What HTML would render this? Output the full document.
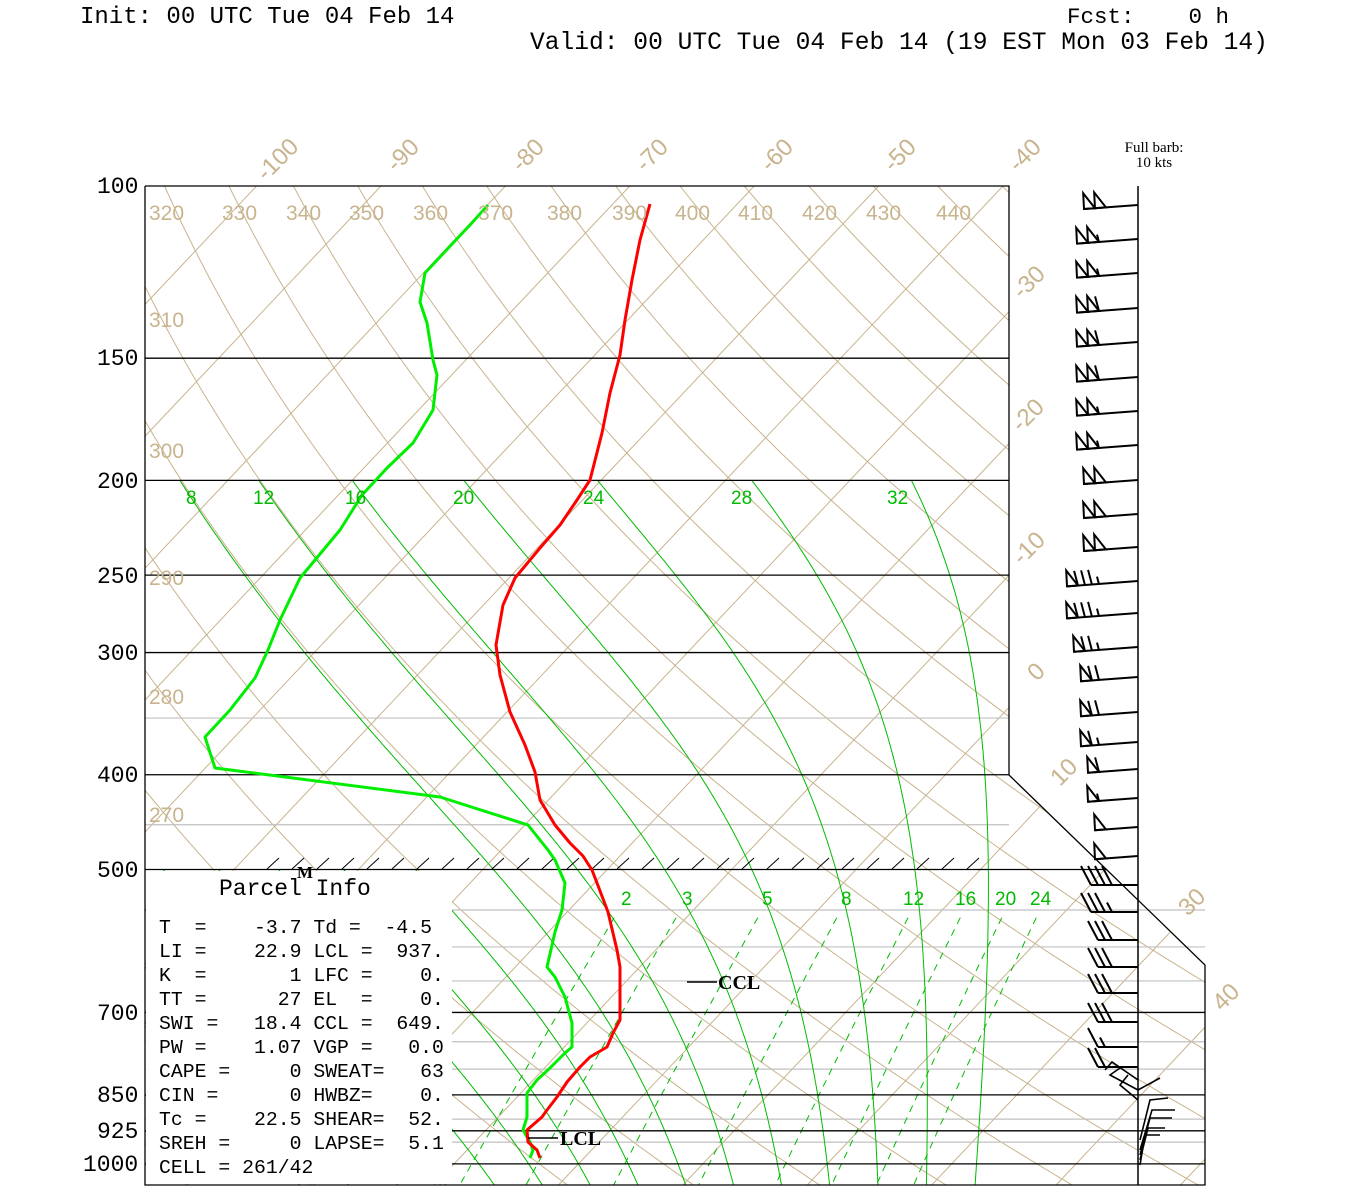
<!DOCTYPE html>
<html><head><meta charset="utf-8">
<style>
html,body{margin:0;padding:0;background:#fff;}
body{width:1350px;height:1200px;position:relative;overflow:hidden;}
.t{position:absolute;white-space:pre;font-family:"Liberation Mono",monospace;color:#000;line-height:1;}
</style></head>
<body>
<svg id="s" width="1350" height="1200" viewBox="0 0 1350 1200" xmlns="http://www.w3.org/2000/svg" style="position:absolute;left:0;top:0">
<defs>
<clipPath id="box"><polygon points="145,186 1009,186 1009,775 1205,965 1205,1185 145,1185"/></clipPath>
<clipPath id="box200"><polygon points="145,481 1009,481 1009,775 1205,965 1205,1185 145,1185"/></clipPath>
<clipPath id="box500"><polygon points="145,870 1107,870 1205,965 1205,1185 145,1185"/></clipPath>
</defs>
</svg>
<script>
(function(){
var NS="http://www.w3.org/2000/svg";
var svg=document.getElementById('s');
function el(n,a,parent){var e=document.createElementNS(NS,n);for(var k in a)e.setAttribute(k,a[k]);(parent||svg).appendChild(e);return e;}
function yP(p){return 186+424.7*Math.log(p/100);}
function xT(T,y){return 1003+12.44*(T+40)-(y-186)*0.943;}
var TAN="#c8b48e", GR="#00bb00";
var gIso=el('g',{'clip-path':'url(#box)',stroke:TAN,'stroke-width':1,fill:'none'});
for(var T=-130;T<=60;T+=10){
  el('line',{x1:xT(T,186),y1:186,x2:xT(T,1185),y2:1185},gIso);
}
for(var th=230;th<=460;th+=10){
  var d="";
  for(var p=100;p<=1052;p+=4){
    var TT=th*Math.pow(p/1000,0.2857)-273.15;var y=yP(p);var x=xT(TT,y);
    d+=(d?"L":"M")+x.toFixed(1)+","+y.toFixed(1);
  }
  el('path',{d:d},gIso);
}
var gray=[[350,1009],[450,1009],[550,1205],[600,1205],[650,1205],[750,1205],[800,1205],[900,1205],[950,1205]];
gray.forEach(function(g){var y=yP(g[0]);el('line',{x1:145,y1:y,x2:g[1],y2:y,stroke:'#c0c0c0','stroke-width':1.2});});
function es(T){return 6.112*Math.exp(17.67*T/(T+243.5));}
function moist(tw){
  var Rd=287.04,Cp=1005.7,Lv=2.501e6,eps=0.622;
  function dTdp(p,T){var Tk=T+273.15;var e=es(T);var rs=eps*e/(p-e);
    return (Rd*Tk+Lv*rs)/(p*(Cp+Lv*Lv*rs*eps/(Rd*Tk*Tk)));}
  var pts=[];var T=tw,p;
  var down=[];var T2=tw;
  for(var pp=1000;pp<1056;pp+=2){down.push([pp,T2]);T2+=dTdp(pp,T2)*2;}
  for(p=1000;p>=190;p-=2){pts.push([p,T]);T-=dTdp(p,T)*2;}
  var all=down.reverse().concat(pts);
  var d="";all.forEach(function(q){var y=yP(q[0]);var x=xT(q[1],y);d+=(d?"L":"M")+x.toFixed(1)+","+y.toFixed(1);});
  return d;
}
var gM1=el('g',{'clip-path':'url(#box200)',stroke:GR,'stroke-width':1,fill:'none'});
for(var tw=8;tw<=32;tw+=4)el('path',{d:moist(tw)},gM1);
var gM2=el('g',{'clip-path':'url(#box500)',stroke:GR,'stroke-width':1,fill:'none'});
for(var tw=-24;tw<=4;tw+=4)el('path',{d:moist(tw)},gM2);
var gW=el('g',{'clip-path':'url(#box)',stroke:GR,'stroke-width':1,fill:'none','stroke-dasharray':'7,6'});
[2,3,5,8,12,16,20,24].forEach(function(w){
  var d="";
  for(var p=560;p<=1055;p+=5){var e=w*p/(622+w);var l=Math.log(e/6.112);var Td=243.5*l/(17.67-l);var y=yP(p);var x=xT(Td,y);d+=(d?"L":"M")+x.toFixed(1)+","+y.toFixed(1);}
  el('path',{d:d},gW);
});
[[150,1009],[200,1009],[250,1009],[300,1009],[400,1009],[500,1107],[700,1205],[850,1205],[925,1205],[1000,1205]].forEach(function(g){
  var y=yP(g[0]);el('line',{x1:145,y1:y,x2:g[1],y2:y,stroke:'#000','stroke-width':1.3});
});
el('polyline',{points:"145,186 1009,186 1009,775 1205,965 1205,1185 145,1185 145,186",fill:'none',stroke:'#000','stroke-width':1.3});
for(var hx=267;hx<=970;hx+=25){el('line',{x1:hx,y1:869,x2:hx+12,y2:858,stroke:'#000','stroke-width':1});}
el('rect',{x:146,y:871,width:306,height:313,fill:'#fff'});
var red=[[650,204],[640,240],[632,280],[625,320],[620,355],[610,393],[602,433],[590,480],[577,500],[560,525],[540,548],[515,578],[503,605],[496,645],[500,675],[510,712],[525,745],[535,772],[540,800],[555,825],[570,843],[583,856],[592,870],[597,883],[608,912],[617,950],[620,967],[620,1020],[613,1033],[607,1047],[590,1057],[580,1067],[567,1082],[557,1097],[547,1110],[542,1117],[527,1130],[528,1142],[537,1150],[540,1158]];
var grn=[[488,205],[470,225],[453,243],[425,273],[420,302],[427,323],[433,360],[437,375],[433,410],[413,443],[387,468],[362,495],[340,530],[300,578],[280,620],[268,650],[255,678],[230,710],[205,737],[215,768],[440,797],[528,825],[548,850],[555,860],[565,883],[562,910],[555,932],[547,967],[555,977],[565,997],[572,1023],[572,1047],[565,1053],[550,1068],[537,1080],[527,1093],[527,1117],[523,1130],[530,1142],[533,1150],[530,1158]];
function pl(a){return a.map(function(q){return q[0]+","+q[1];}).join(" ");}
el('polyline',{points:pl(grn),fill:'none',stroke:'#00ee00','stroke-width':3,'stroke-linejoin':'round'});
el('polyline',{points:pl(red),fill:'none',stroke:'#ff0000','stroke-width':3,'stroke-linejoin':'round'});
el('line',{x1:687,y1:982,x2:717,y2:982,stroke:'#000','stroke-width':1.5});
el('line',{x1:528,y1:1138,x2:558,y2:1138,stroke:'#000','stroke-width':1.5});
el('line',{x1:1138,y1:186,x2:1138,y2:1185,stroke:'#000','stroke-width':1.5});
var gB=el('g',{stroke:'#000','stroke-width':2,fill:'none','stroke-linejoin':'miter'});
function barb(y,spec,lower){
  var w=0;for(var i=0;i<spec.length;i++){w+=spec[i]=='P'?11:7;}
  var L=lower?40+(spec.length>3?7:0):32+w;
  var dy=lower?0:L*0.075;
  var tx=1138-L,ty=y+dy;
  var h=Math.hypot(L,dy);
  var ux=-L/h,uy=dy/h;
  var nx=uy,ny=ux;
  if(ny>0){nx=-nx;ny=-ny;}
  el('line',{x1:1138,y1:y,x2:tx,y2:ty},gB);
  function P(s){return [tx-ux*s,ty-uy*s];}
  var s=0;
  for(var i=0;i<spec.length;i++){
    var c=spec[i];var a=P(s);
    if(c=='P'){var b=P(s+11);el('polygon',{points:a[0]+","+a[1]+" "+b[0]+","+b[1]+" "+(a[0]+16*nx+2*ux)+","+(a[1]+16*ny+2*uy)},gB);s+=11;}
    else{var len=(c=='F')?1:0.5;
      var fx=lower?(15*nx+10*ux):(15*nx+5*ux), fy=lower?(15*ny+10*uy-4):(15*ny+5*uy);
      el('line',{x1:a[0],y1:a[1],x2:a[0]+fx*len,y2:a[1]+fy*len},gB);s+=7;}
  }
}
[[205,'PP'],[239,'PPH'],[273,'PPH'],[308,'PPF'],[342,'PPF'],[377,'PPF'],[411,'PPH'],[445,'PPH'],[480,'PP'],[514,'PP'],[547,'PP'],[581,'PFFFH'],[613,'PFFFH'],[647,'PFFH'],[677,'PFF'],[712,'PFF'],[742,'PFH'],[769,'PF'],[798,'PH'],[827,'P'],[856,'P']].forEach(function(b){barb(b[0],b[1],false);});
[[885,'FFFF'],[912,'FFFH'],[940,'FFF'],[967,'FFF'],[993,'FFF'],[1022,'FFF'],[1047,'FH'],[1067,'FF']].forEach(function(b){barb(b[0],b[1],true);});
var gS=el('g',{stroke:'#000','stroke-width':1.6,fill:'none'});
["1138,1080 1112,1062 1105,1070","1138,1090 1110,1075 1120,1068","1138,1100 1120,1085 1128,1075","1138,1090 1160,1078","1140,1140 1150,1100 1168,1098","1140,1150 1152,1110 1175,1110","1140,1155 1150,1118 1172,1118","1140,1160 1148,1128 1165,1128","1140,1165 1145,1135 1160,1135"].forEach(function(p){el('polyline',{points:p},gS);});
var gT=el('g',{fill:TAN,'font-family':'Liberation Sans, sans-serif','font-size':21});
[[320,149],[330,222],[340,286],[350,349],[360,413],[370,478],[380,547],[390,612],[400,675],[410,738],[420,802],[430,866],[440,936]].forEach(function(a){el('text',{x:a[1],y:220},gT).textContent=a[0];});
[[310,327],[300,458],[290,585],[280,704],[270,822]].forEach(function(a){el('text',{x:149,y:a[1]},gT).textContent=a[0];});
var gT2=el('g',{fill:TAN,'font-family':'Liberation Sans, sans-serif','font-size':24});
[["-100",266,182],["-90",396,173],["-80",521,173],["-70",645,173],["-60",770,173],["-50",893,173],["-40",1018,173],["-30",1022,300],["-20",1021,433],["-10",1022,566],["0",1037,682],["10",1060,787],["30",1188,917],["40",1222,1012]].forEach(function(a){
  el('text',{x:a[1],y:a[2],transform:'rotate(-45 '+a[1]+' '+a[2]+')'},gT2).textContent=a[0];});
var gG=el('g',{fill:'#00bb00','font-family':'Liberation Sans, sans-serif','font-size':19});
[["8",186],["12",253],["16",345],["20",453],["24",583],["28",731],["32",887]].forEach(function(a){el('text',{x:a[1],y:504},gG).textContent=a[0];});
[["2",621],["3",682],["5",762],["8",841],["12",903],["16",955],["20",995],["24",1030]].forEach(function(a){el('text',{x:a[1],y:905},gG).textContent=a[0];});
var gK=el('g',{fill:'#000','font-family':'Liberation Serif, serif','font-weight':'bold'});
el('text',{x:297,y:878,'font-size':17},gK).textContent="M";
el('text',{x:718,y:989,'font-size':20},gK).textContent="CCL";
el('text',{x:560,y:1145,'font-size':20},gK).textContent="LCL";
var gF=el('g',{fill:'#000','font-family':'Liberation Serif, serif','font-size':15,'text-anchor':'middle'});
el('text',{x:1154,y:152},gF).textContent="Full barb:";
el('text',{x:1154,y:167},gF).textContent="10 kts";
})();
</script>
<div class="t" style="left:80px;top:6px;font-size:24px">Init: 00 UTC Tue 04 Feb 14</div>
<div class="t" style="left:1067px;top:6px;font-size:22.5px">Fcst:    0 h</div>
<div class="t" style="left:530px;top:32px;font-size:24.6px">Valid: 00 UTC Tue 04 Feb 14 (19 EST Mon 03 Feb 14)</div>
<div class="t" style="left:97px;top:176px;font-size:23px">100</div>
<div class="t" style="left:97px;top:348px;font-size:23px">150</div>
<div class="t" style="left:97px;top:471px;font-size:23px">200</div>
<div class="t" style="left:97px;top:566px;font-size:23px">250</div>
<div class="t" style="left:97px;top:643px;font-size:23px">300</div>
<div class="t" style="left:97px;top:765px;font-size:23px">400</div>
<div class="t" style="left:97px;top:860px;font-size:23px">500</div>
<div class="t" style="left:97px;top:1003px;font-size:23px">700</div>
<div class="t" style="left:97px;top:1085px;font-size:23px">850</div>
<div class="t" style="left:97px;top:1121px;font-size:23px">925</div>
<div class="t" style="left:83px;top:1154px;font-size:23px">1000</div>
<div class="t" style="left:219px;top:878px;font-size:23px">Parcel Info</div>
<div class="t" style="left:159px;top:916px;font-size:19.8px;line-height:24px">T  =    -3.7 Td =  -4.5
LI =    22.9 LCL =  937.
K  =       1 LFC =    0.
TT =      27 EL  =    0.
SWI =   18.4 CCL =  649.
PW =    1.07 VGP =   0.0
CAPE =     0 SWEAT=   63
CIN =      0 HWBZ=    0.
Tc =    22.5 SHEAR=  52.
SREH =     0 LAPSE=  5.1
CELL = 261/42</div>
</body></html>
